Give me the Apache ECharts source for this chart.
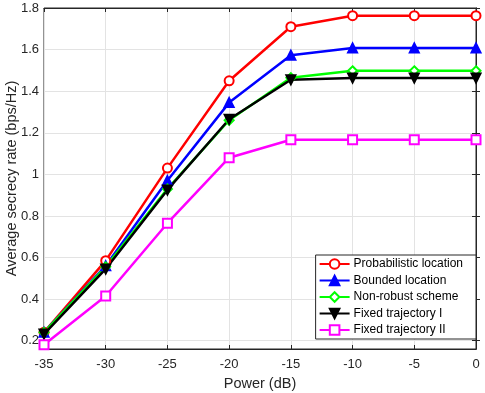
<!DOCTYPE html>
<html>
<head>
<meta charset="utf-8">
<script src="https://cdn.jsdelivr.net/npm/echarts@6/dist/echarts.min.js"></script>
<style>
  html, body { margin: 0; padding: 0; background: #fff; }
  #chart { width: 485px; height: 393px; }
</style>
</head>
<body>
<div id="chart"></div>
<script>
// 横轴: 功率 (dB)
const power = [-35, -30, -25, -20, -15, -10, -5, 0]
const yTicks = [0.2, 0.4, 0.6, 0.8, 1, 1.2, 1.4, 1.6, 1.8]

// 各方案的平均保密速率 (bps/Hz)
const probabilistic = [0.24, 0.585, 1.03, 1.45, 1.71, 1.763, 1.763, 1.763]
const bounded = [0.24, 0.56, 0.97, 1.345, 1.573, 1.608, 1.608, 1.608]
const nonRobust = [0.24, 0.555, 0.93, 1.26, 1.465, 1.498, 1.498, 1.498]
const fixedI = [0.232, 0.545, 0.925, 1.265, 1.455, 1.463, 1.463, 1.463]
const fixedII = [0.18, 0.415, 0.765, 1.08, 1.166, 1.166, 1.166, 1.166]

const names = ['Probabilistic location', 'Bounded location', 'Non-robust scheme', 'Fixed trajectory I', 'Fixed trajectory II']

const myChart = echarts.init(document.getElementById('chart'))

const font = 'Liberation Sans, Arial, sans-serif'
const frame = '#262626'

// 折线配置
function line(name, data, color, symbol, fill) {
  return {
    name: name,
    type: 'line',
    data: power.map((p, i) => [p, data[i]]),
    symbol: symbol,
    symbolSize: 9,
    color: color,
    lineStyle: { color: color, width: 2.5 },
    itemStyle: { color: fill ? color : '#fff', borderColor: color, borderWidth: 2 },
    emphasis: { disabled: true },
    z: 3,
  }
}

const downTri = 'path://M0,0 L10,0 L5,9 Z'

myChart.setOption({
  animation: false,
  backgroundColor: '#fff',
  textStyle: { fontFamily: font },
  grid: {
    left: 44, right: 9, top: 8, bottom: 44,
    outerBoundsMode: 'none', containLabel: false,
    show: true, borderColor: frame, borderWidth: 1, backgroundColor: 'transparent',
  },
  legend: {
    orient: 'vertical',
    right: 9,
    top: 255,
    backgroundColor: '#fff',
    borderColor: frame,
    borderWidth: 1,
    borderRadius: 0,
    padding: [3, 13, 3, 3],
    itemGap: 4.5,
    itemWidth: 30,
    itemHeight: 12,
    textStyle: { fontSize: 12, lineHeight: 12, color: '#000', fontFamily: font, padding: [0, 0, 0, -1] },
    data: names,
  },
  xAxis: [
    {
      type: 'value', min: -35, max: 0, interval: 5,
      name: 'Power (dB)', nameLocation: 'middle', nameGap: 27,
      nameTextStyle: { fontSize: 14.5, color: '#262626' },
      axisLine: { show: true, lineStyle: { color: frame } },
      axisTick: { inside: true, length: 4, lineStyle: { color: frame } },
      axisLabel: { fontSize: 13, color: '#262626', margin: 9 },
      splitLine: { show: true, lineStyle: { color: '#e3e3e3' } },
    },
    {
      type: 'value', min: -35, max: 0, interval: 5, position: 'top',
      axisLine: { show: true, lineStyle: { color: frame } },
      axisTick: { inside: true, length: 4, lineStyle: { color: frame } },
      axisLabel: { show: false },
      splitLine: { show: false },
    },
  ],
  yAxis: [
    {
      type: 'value', min: 0.16, max: 1.8,
      name: 'Average secrecy rate (bps/Hz)', nameLocation: 'middle', nameGap: 25,
      nameMoveOverlap: false,
      nameTextStyle: { fontSize: 14.5, color: '#262626' },
      axisLine: { show: true, lineStyle: { color: frame } },
      axisTick: { inside: true, length: 4, customValues: yTicks, lineStyle: { color: frame } },
      axisLabel: { fontSize: 13, color: '#262626', margin: 5, customValues: yTicks, formatter: v => String(+v.toFixed(1)) },
      splitLine: { show: true, lineStyle: { color: '#e3e3e3' } },
    },
    {
      type: 'value', min: 0.16, max: 1.8, position: 'right',
      axisLine: { show: true, lineStyle: { color: frame } },
      axisTick: { inside: true, length: 4, customValues: yTicks, lineStyle: { color: frame } },
      axisLabel: { show: false },
      splitLine: { show: false },
    },
  ],
  series: [
    line(names[0], probabilistic, '#ff0000', 'circle', false),
    line(names[1], bounded, '#0000ff', 'triangle', true),
    line(names[2], nonRobust, '#00ff00', 'diamond', false),
    line(names[3], fixedI, '#000000', downTri, true),
    line(names[4], fixedII, '#ff00ff', 'rect', false),
  ],
})
</script>
</body>
</html>
